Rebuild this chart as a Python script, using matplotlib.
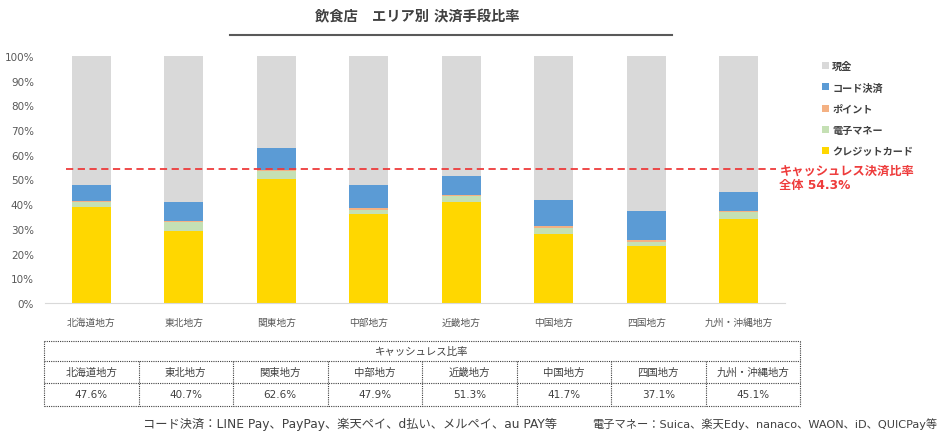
import matplotlib
matplotlib.use("Agg")
import matplotlib.pyplot as plt
import numpy as np

plt.rcParams['font.family'] = ['DejaVu Sans', 'Noto Sans CJK JP']

# data (percent)
areas = ["北海道地方", "東北地方", "関東地方", "中部地方", "近畿地方", "中国地方", "四国地方", "九州・沖縄地方"]
credit = [39.0, 29.3, 50.2, 36.0, 40.8, 28.1, 23.0, 33.9]
emoney = [1.8, 3.6, 3.3, 1.8, 2.4, 2.2, 1.5, 3.0]
point = [0.6, 0.3, 0.4, 0.7, 0.4, 0.9, 0.9, 0.4]
code = [6.2, 7.5, 8.7, 9.4, 7.7, 10.5, 11.7, 7.8]
cashless = [47.6, 40.7, 62.6, 47.9, 51.3, 41.7, 37.1, 45.1]
overall = 54.3
table_labels = ["47.6%", "40.7%", "62.6%", "47.9%", "51.3%", "41.7%", "37.1%", "45.1%"]

series = ["クレジットカード", "電子マネー", "ポイント", "コード決済", "現金"]
colors = ["#FFD700", "#C5E0B4", "#F4B183", "#5B9BD5", "#D9D9D9"]

W, H = 947, 435
fig = plt.figure(figsize=(W / 100, H / 100), dpi=100)

ax = fig.add_axes([45 / W, 1 - 304 / H, 740 / W, 247 / H])
x = np.arange(len(areas))
stack = [np.array(credit), np.array(emoney), np.array(point), np.array(code)]
cash = 100 - sum(stack)
stack.append(cash)
bottom = np.zeros(len(areas))
for vals, c, name in zip(stack, colors, series):
    ax.bar(x, vals / 100, 0.42, bottom=bottom / 100, color=c, label=name)
    bottom = bottom + vals

ax.set_xlim(-0.5, len(areas) - 0.5)
ax.set_ylim(0, 1)
ax.set_yticks(np.arange(0, 1.01, 0.1))
ax.set_yticklabels([f"{int(round(v * 100))}%" for v in np.arange(0, 1.01, 0.1)])
ax.set_xticks(x)
ax.set_xticklabels(areas)
ax.tick_params(axis='y', length=0, pad=8, labelsize=7.5, labelcolor="#595959")
ax.tick_params(axis='x', length=0, pad=10, labelsize=7, labelcolor="#595959")
for s in ["top", "right", "left"]:
    ax.spines[s].set_visible(False)
ax.spines["bottom"].set_color("#D9D9D9")

# overall cashless line
ax.plot([-0.27, 7.4], [overall / 100, overall / 100], color="#EE3B3B", ls=(0, (4, 2.5)), lw=1.3, clip_on=False)
ax.text(7.44, 0.51, "キャッシュレス決済比率\n全体 54.3%", color="#EE3B3B",
        fontsize=8.8, fontweight="bold", va="center", ha="left", linespacing=1.15)

# legend
h, l = ax.get_legend_handles_labels()
leg = fig.legend(h[::-1], l[::-1], loc="upper left", bbox_to_anchor=(818 / W, 1 - 58 / H),
                 frameon=False, fontsize=7.3, handlelength=0.7, handleheight=0.7,
                 handletextpad=0.3, labelspacing=1.1, borderaxespad=0)
for t in leg.get_texts():
    t.set_color("#404040")
    t.set_fontweight("bold")

# overlay in pixel coordinates for title, table and notes
ov = fig.add_axes([0, 0, 1, 1])
ov.set_xlim(0, W)
ov.set_ylim(H, 0)
ov.axis("off")

ov.text(417, 17, "飲食店　エリア別 決済手段比率", ha="center", va="center", fontsize=10.3,
        fontweight="bold", color="#404040")
ov.plot([230, 672], [36, 36], color="#595959", lw=1.5)

# table
left, right = 44, 800
rows = [342, 362, 384, 406.5]
colw = (right - left) / len(areas)
lk = dict(color="#404040", lw=0.8, ls=(0, (1, 1)))
for yy in rows:
    ov.plot([left, right], [yy, yy], **lk)
ov.plot([left, left], [rows[0], rows[-1]], **lk)
ov.plot([right, right], [rows[0], rows[-1]], **lk)
for i in range(1, len(areas)):
    xx = left + i * colw
    ov.plot([xx, xx], [rows[1], rows[-1]], **lk)
ov.text((left + right) / 2, (rows[0] + rows[1]) / 2, "キャッシュレス比率", ha="center", va="center",
        fontsize=7.5, color="#404040")
for i, (a, v) in enumerate(zip(areas, table_labels)):
    cx = left + (i + 0.5) * colw
    ov.text(cx, (rows[1] + rows[2]) / 2, a, ha="center", va="center", fontsize=7.5, color="#404040")
    ov.text(cx, (rows[2] + rows[3]) / 2, v, ha="center", va="center", fontsize=7.5, color="#404040")

ov.text(143, 424, "コード決済：LINE Pay、PayPay、楽天ペイ、d払い、メルペイ、au PAY等", ha="left", va="center",
        fontsize=8.8, color="#404040")
ov.text(592, 424, "電子マネー：Suica、楽天Edy、nanaco、WAON、iD、QUICPay等", ha="left", va="center",
        fontsize=8.1, color="#404040")

fig.savefig("out.png", dpi=100)
